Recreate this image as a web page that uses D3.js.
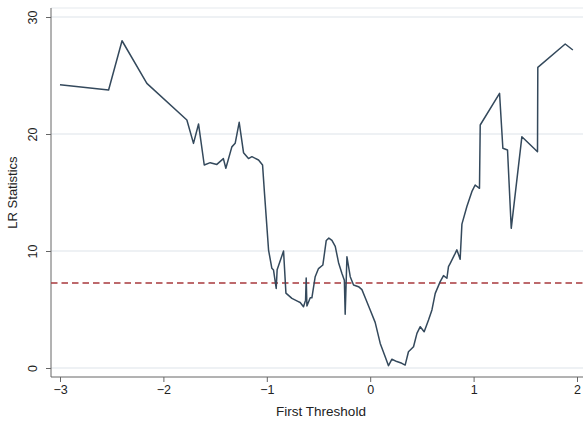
<!DOCTYPE html>
<html>
<head>
<meta charset="utf-8">
<script src="https://cdn.jsdelivr.net/npm/d3@7/dist/d3.min.js"></script>
<style>
  html, body { margin: 0; padding: 0; background: #fff; }
  svg { display: block; }
  text { font-family: "Liberation Sans", Arial, sans-serif; fill: #222; }
</style>
</head>
<body>
<svg id="chart" width="587" height="421"></svg>
<script>
// First-threshold grid search: LR statistic at each candidate threshold
const thresholds = [
  -3.00, -2.53, -2.40, -2.16, -1.773, -1.709, -1.66, -1.605, -1.547, -1.483,
  -1.42, -1.396, -1.338, -1.306, -1.267, -1.225, -1.177, -1.144, -1.08, -1.041,
  -1.022, -0.983, -0.951, -0.935, -0.909, -0.90, -0.838, -0.815, -0.757, -0.70,
  -0.677, -0.645, -0.625, -0.619, -0.612, -0.58, -0.564, -0.532, -0.50, -0.458,
  -0.425, -0.40, -0.37, -0.338, -0.306, -0.274, -0.25, -0.242, -0.225, -0.193,
  -0.161, -0.113, -0.08, -0.048, 0.0, 0.048, 0.097, 0.145, 0.177, 0.21,
  0.258, 0.306, 0.338, 0.37, 0.419, 0.452, 0.484, 0.522, 0.564, 0.597,
  0.629, 0.677, 0.709, 0.742, 0.757, 0.774, 0.822, 0.838, 0.87, 0.887,
  0.935, 0.983, 1.015, 1.057, 1.064, 1.251, 1.283, 1.328, 1.364, 1.467,
  1.618, 1.621, 1.886, 1.96
];
const lrStats = [
  24.2, 23.76, 27.97, 24.33, 21.2, 19.2, 20.85, 17.35, 17.55, 17.4,
  17.9, 17.07, 18.9, 19.2, 21.0, 18.4, 17.9, 18.06, 17.78, 17.35,
  14.9, 10.08, 8.52, 8.37, 6.8, 8.4, 10.0, 6.4, 5.95, 5.7,
  5.6, 5.24, 5.8, 7.7, 5.3, 6.0, 6.0, 7.8, 8.5, 8.8,
  10.9, 11.1, 10.9, 10.4, 9.0, 8.1, 7.5, 4.6, 9.5, 7.8,
  7.1, 6.95, 6.7, 6.0, 4.96, 3.9, 2.1, 0.97, 0.2, 0.75,
  0.55, 0.4, 0.25, 1.39, 1.82, 2.96, 3.53, 3.1, 4.1, 4.96,
  6.38, 7.38, 7.9, 7.67, 8.66, 8.95, 9.8, 10.1, 9.3, 12.3,
  13.8, 15.07, 15.64, 15.36, 20.77, 23.48, 18.78, 18.63, 11.94, 19.77,
  18.49, 25.7, 27.69, 27.18
];
// 95% critical value
const criticalValue = 7.26;

const xTicks = [-3, -2, -1, 0, 1, 2];
const yTicks = [0, 10, 20, 30];
const xLabel = "First Threshold";
const yLabel = "LR Statistics";

const svg = d3.select("#chart");
const x = d3.scaleLinear().domain([-3, 2]).range([60, 577]);
const y = d3.scaleLinear().domain([0, 30]).range([368, 17]);
const plotLeft = 51, plotRight = 583, plotTop = 8, plotBottom = 377;

// plot region top edge
svg.append("line")
  .attr("x1", plotLeft).attr("x2", plotRight).attr("y1", plotTop).attr("y2", plotTop)
  .attr("stroke", "#eef1f3").attr("stroke-width", 1.5);

// horizontal gridlines
svg.append("g").selectAll("line").data(yTicks).join("line")
  .attr("x1", plotLeft).attr("x2", plotRight)
  .attr("y1", d => y(d)).attr("y2", d => y(d))
  .attr("stroke", "#e9edf0").attr("stroke-width", 1.5);

// y axis
const yAxis = svg.append("g").attr("transform", `translate(${plotLeft},0)`)
  .call(d3.axisLeft(y).tickValues(yTicks).tickSize(5).tickPadding(4));
yAxis.select(".domain").attr("d", `M0,${plotTop}V${plotBottom}`).attr("stroke", "#666");
yAxis.selectAll(".tick line").attr("stroke", "#666");
yAxis.selectAll(".tick text")
  .attr("font-size", 12.5)
  .attr("transform", "rotate(-90)")
  .attr("x", 0).attr("y", -14)
  .attr("dy", "0")
  .attr("text-anchor", "middle");

// x axis
const xAxis = svg.append("g").attr("transform", `translate(0,${plotBottom})`)
  .call(d3.axisBottom(x).tickValues(xTicks).tickSize(5).tickPadding(3)
    .tickFormat(d3.format("d")));
xAxis.select(".domain").attr("d", `M${plotLeft},0H${plotRight}`).attr("stroke", "#666");
xAxis.selectAll(".tick line").attr("stroke", "#666");
xAxis.selectAll(".tick text").attr("font-size", 12.5);

// axis titles
svg.append("text")
  .attr("x", (plotLeft + plotRight) / 2 + 4).attr("y", 416)
  .attr("text-anchor", "middle").attr("font-size", 13.5)
  .text(xLabel);
svg.append("text")
  .attr("transform", `translate(17,${(plotTop + plotBottom) / 2}) rotate(-90)`)
  .attr("text-anchor", "middle").attr("font-size", 13)
  .text(yLabel);

// critical value reference line
svg.append("line")
  .attr("x1", plotLeft).attr("x2", plotRight)
  .attr("y1", y(criticalValue)).attr("y2", y(criticalValue))
  .attr("stroke", "#a8393c").attr("stroke-width", 1.4)
  .attr("stroke-dasharray", "6.5,4");

// LR statistic curve
const pts = thresholds.map((t, i) => [t, lrStats[i]]);
svg.append("path")
  .datum(pts)
  .attr("fill", "none")
  .attr("stroke", "#34495c")
  .attr("stroke-width", 1.5)
  .attr("stroke-linejoin", "round")
  .attr("d", d3.line().x(d => x(d[0])).y(d => y(d[1])));
</script>
</body>
</html>
